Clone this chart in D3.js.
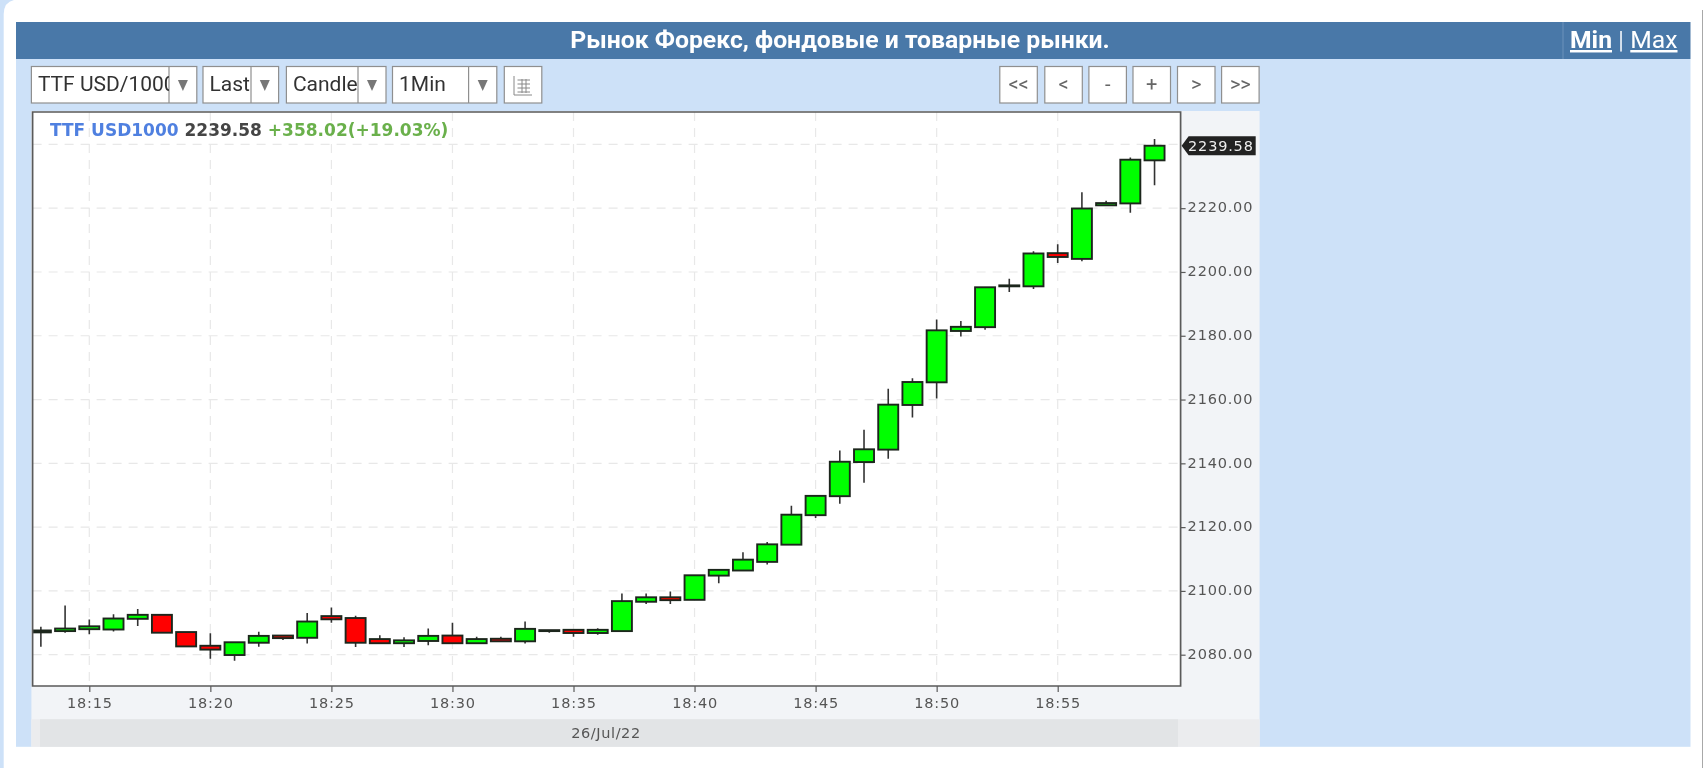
<!DOCTYPE html>
<html>
<head>
<meta charset="utf-8">
<script src="https://cdnjs.cloudflare.com/ajax/libs/d3/7.8.5/d3.min.js"></script>
<style>
  html, body { margin: 0; padding: 0; background: #fff; overflow: hidden; }
  svg { display: block; }
  text { font-family: Roboto, sans-serif; }
  .mono text, text.mono { font-family: "DejaVu Sans", sans-serif; }
</style>
</head>
<body>
<svg id="page" width="1703" height="768"></svg>
<script>
const minutes = ['18:13','18:14','18:15','18:16','18:17','18:18','18:19','18:20','18:21','18:22','18:23','18:24',
  '18:25','18:26','18:27','18:28','18:29','18:30','18:31','18:32','18:33','18:34','18:35','18:36','18:37','18:38',
  '18:39','18:40','18:41','18:42','18:43','18:44','18:45','18:46','18:47','18:48','18:49','18:50','18:51','18:52',
  '18:53','18:54','18:55','18:56','18:57','18:58','18:59'];
const opens = [2087.0,2087.4,2088.0,2087.9,2091.25,2092.5,2087.1,2082.8,2079.9,2083.75,2086.0,2085.3,
  2092.1,2091.5,2084.9,2083.6,2084.3,2086.0,2083.6,2085.0,2084.2,2087.4,2087.8,2086.8,2087.4,2096.6,
  2098.0,2097.2,2104.8,2106.4,2109.1,2114.5,2123.75,2129.7,2140.4,2144.3,2158.3,2165.4,2181.5,2182.7,
  2195.5,2195.5,2205.9,2204.1,2220.9,2221.5,2235.0];
const highs = [2088.75,2095.4,2091.0,2092.7,2094.3,2092.5,2087.1,2086.7,2083.9,2087.2,2086.0,2093.1,
  2094.8,2092.2,2086.1,2085.5,2088.2,2090.0,2085.6,2085.6,2090.4,2087.7,2087.8,2088.3,2099.2,2099.2,
  2099.8,2104.9,2106.6,2112.1,2115.3,2126.7,2129.8,2144.0,2150.5,2163.4,2166.7,2185.1,2184.6,2195.2,
  2197.9,2206.5,2208.7,2225.0,2222.3,2235.9,2241.7];
const lows = [2082.5,2086.9,2086.4,2087.3,2089.0,2086.9,2082.6,2078.75,2078.1,2082.5,2084.6,2083.5,
  2090.0,2082.4,2083.6,2082.4,2083.0,2083.6,2083.6,2084.2,2083.5,2086.9,2085.6,2086.25,2087.4,2095.9,
  2095.9,2097.2,2102.4,2106.4,2108.3,2114.5,2122.9,2127.3,2133.9,2141.4,2154.4,2160.3,2179.8,2181.9,
  2193.7,2194.7,2202.8,2203.4,2220.9,2218.6,2227.2];
const closes = [2087.6,2088.2,2088.9,2091.35,2092.5,2086.9,2082.6,2081.6,2083.9,2085.9,2085.2,2090.4,
  2091.1,2083.75,2083.6,2084.5,2085.9,2083.6,2084.9,2084.2,2088.1,2087.7,2086.8,2087.8,2096.8,2098.0,
  2097.1,2104.9,2106.6,2109.8,2114.6,2123.9,2129.8,2140.5,2144.4,2158.4,2165.5,2181.7,2182.8,2195.2,
  2195.8,2205.8,2204.7,2219.9,2221.6,2235.2,2239.58];

const priceTicks = [2080,2100,2120,2140,2160,2180,2200,2220,2240];
const lastPrice = 2239.58;
const titleText = 'Рынок Форекс, фондовые и товарные рынки.';
const dateLabel = '26/Jul/22';
const selects = ['TTF USD/1000', 'Last', 'Candle', '1Min'];
const navButtons = ['<<', '<', '-', '+', '>', '>>'];

const colors = {
  bar: '#4a78a8',
  panel: '#cde1f8',
  axisBg: '#f2f4f7',
  dateBg: '#e2e4e6',
  dateEnd: '#ebecee',
  grid: '#e8e8e8',
  axis: '#5a5a5a',
  tick: '#555',
  up: '#00ff00',
  down: '#ff0000',
  edge: '#1c261c',
  wick: '#333'
};

const plot = {left: 32.6, right: 1180.6, top: 112, bottom: 686};

const parseTime = d3.utcParse('%H:%M');
const fmtTime = d3.utcFormat('%H:%M');
const candles = minutes.map((m, i) => ({
  t: parseTime(m), o: opens[i], h: highs[i], l: lows[i], c: closes[i]
}));

const x = d3.scaleUtc()
  .domain([parseTime('18:15'), parseTime('18:55')])
  .range([89.3, 1057.7]);
const y = d3.scaleLinear()
  .domain([2080, 2240])
  .range([654.7, 144.4]);

const svg = d3.select('#page');
const defs = svg.append('defs');
defs.append('clipPath').attr('id', 'plot-clip').append('rect')
  .attr('x', plot.left).attr('y', plot.top)
  .attr('width', plot.right - plot.left).attr('height', plot.bottom - plot.top);
defs.append('filter').attr('id', 'soft').attr('x', 0).attr('y', 0).attr('width', '100%').attr('height', '100%')
  .append('feGaussianBlur').attr('stdDeviation', 0.35);

const root = svg.append('g').attr('filter', 'url(#soft)');

// page frame
root.append('rect').attr('width', 1703).attr('height', 768).attr('fill', '#fff');
root.append('path')
  .attr('d', 'M0,0H14Q4,2 3.7,14V768H0Z')
  .attr('fill', colors.panel);
root.append('rect').attr('x', 1702).attr('y', 10).attr('width', 1).attr('height', 758).attr('fill', '#a8a8a8');

// header + panel
root.append('rect').attr('x', 16).attr('y', 59).attr('width', 1674.5).attr('height', 687.8).attr('fill', colors.panel);
root.append('rect').attr('x', 16).attr('y', 22).attr('width', 1674.5).attr('height', 37).attr('fill', colors.bar);
root.append('line').attr('x1', 1563).attr('x2', 1563).attr('y1', 22).attr('y2', 59).attr('stroke', '#6b92bb');
root.append('text').text(titleText)
  .attr('x', 840).attr('y', 48).attr('text-anchor', 'middle')
  .attr('fill', '#fff').attr('font-size', 24.75).attr('font-weight', 700);

const minMax = root.append('text').attr('x', 1570).attr('y', 48).attr('fill', '#fff').attr('font-size', 24.7);
minMax.append('tspan').text('Min').attr('font-weight', 700).attr('text-decoration', 'underline');
minMax.append('tspan').text(' | ').attr('fill', '#dfe8f2');
minMax.append('tspan').text('Max').attr('text-decoration', 'underline');

// toolbar
const selectBoxes = [
  {x0: 31.4, x1: 196.8, split: 169},
  {x0: 203, x1: 278.6, split: 251},
  {x0: 286.4, x1: 386, split: 358},
  {x0: 392.5, x1: 496.8, split: 468.6}
];
selects.forEach((label, i) => {
  const b = selectBoxes[i];
  const g = root.append('g');
  defs.append('clipPath').attr('id', 'sel-clip-' + i).append('rect')
    .attr('x', b.x0).attr('y', 66).attr('width', b.split - b.x0).attr('height', 37);
  g.append('rect').attr('x', b.x0).attr('y', 66.5).attr('width', b.x1 - b.x0).attr('height', 36.5)
    .attr('fill', '#fff').attr('stroke', '#8f8f8f').attr('stroke-width', 1.2);
  g.append('line').attr('x1', b.split).attr('x2', b.split).attr('y1', 66.5).attr('y2', 103)
    .attr('stroke', '#8f8f8f').attr('stroke-width', 1.2);
  g.append('text').text(label)
    .attr('x', b.x0 + 6.5).attr('y', 91).attr('font-size', 21).attr('fill', '#333')
    .attr('clip-path', 'url(#sel-clip-' + i + ')');
  const cx = (b.split + b.x1) / 2;
  g.append('path').attr('d', `M${cx - 5},80H${cx + 5}L${cx},91Z`).attr('fill', '#777');
});

const iconBtn = root.append('g');
iconBtn.append('rect').attr('x', 504.3).attr('y', 66.5).attr('width', 37.5).attr('height', 36.5)
  .attr('fill', '#fff').attr('stroke', '#8f8f8f').attr('stroke-width', 1.2);
iconBtn.append('path')
  .attr('d', 'M514,76V95H532 M517.5,80H530 M517.5,84H530 M517.5,88H530 M517.5,92H530 M522,79V93 M526,79V93')
  .attr('fill', 'none').attr('stroke', '#888').attr('stroke-width', 1);

const navX = [999.8, 1044.8, 1088.9, 1133, 1177.5, 1221.6];
navButtons.forEach((label, i) => {
  const g = root.append('g');
  g.append('rect').attr('x', navX[i]).attr('y', 66.5).attr('width', 37.5).attr('height', 36.5)
    .attr('fill', '#fff').attr('stroke', '#8f8f8f').attr('stroke-width', 1.2);
  g.append('text').text(label)
    .attr('x', navX[i] + 18.75).attr('y', 91).attr('text-anchor', 'middle')
    .attr('font-size', 20).attr('fill', '#666');
});

// chart background
root.append('rect').attr('x', 31.4).attr('y', 111).attr('width', 1228.2).attr('height', 635.8).attr('fill', colors.axisBg);
root.append('rect').attr('x', 31.4).attr('y', 719.3).attr('width', 1228.2).attr('height', 27.5).attr('fill', colors.dateEnd);
root.append('rect').attr('x', 40).attr('y', 719.3).attr('width', 1138).attr('height', 27.5).attr('fill', colors.dateBg);
root.append('rect').attr('x', plot.left).attr('y', plot.top)
  .attr('width', plot.right - plot.left).attr('height', plot.bottom - plot.top).attr('fill', '#fff');

// grid
const gridG = root.append('g');
gridG.selectAll('line.h').data(priceTicks).enter().append('line')
  .attr('class', 'h')
  .attr('x1', plot.left).attr('x2', plot.right)
  .attr('y1', d => y(d)).attr('y2', d => y(d))
  .attr('stroke', colors.grid).attr('stroke-width', 1.2).attr('stroke-dasharray', '9,7');
gridG.selectAll('line.v').data(x.ticks(d3.utcMinute.every(5))).enter().append('line')
  .attr('class', 'v')
  .attr('x1', d => x(d)).attr('x2', d => x(d))
  .attr('y1', plot.top).attr('y2', plot.bottom)
  .attr('stroke', colors.grid).attr('stroke-width', 1.2).attr('stroke-dasharray', '9,7');

// candles
const barWidth = 20;
const candleG = root.append('g').attr('clip-path', 'url(#plot-clip)');
const candle = candleG.selectAll('g.candle').data(candles).enter().append('g').attr('class', 'candle');
candle.append('line')
  .attr('x1', d => x(d.t)).attr('x2', d => x(d.t))
  .attr('y1', d => y(d.h)).attr('y2', d => y(d.l))
  .attr('stroke', colors.wick).attr('stroke-width', 1.6);
candle.append('rect')
  .attr('x', d => x(d.t) - barWidth / 2)
  .attr('width', barWidth)
  .attr('y', d => y(Math.max(d.o, d.c)))
  .attr('height', d => Math.abs(y(d.o) - y(d.c)))
  .attr('fill', d => d.c >= d.o ? colors.up : colors.down)
  .attr('stroke', colors.edge).attr('stroke-width', 1.9);

// axes
const xAxis = d3.axisBottom(x)
  .ticks(d3.utcMinute.every(5))
  .tickFormat(fmtTime)
  .tickSize(6).tickPadding(5.5);
const yAxis = d3.axisRight(y)
  .tickValues(priceTicks.filter(d => d < 2240))
  .tickFormat(d3.format('.2f'))
  .tickSize(5).tickPadding(2);

const xG = root.append('g').attr('class', 'mono').attr('transform', `translate(0,${plot.bottom})`).call(xAxis);
const yG = root.append('g').attr('class', 'mono').attr('transform', `translate(${plot.right},0)`).call(yAxis);
[xG, yG].forEach(g => {
  g.select('.domain').remove();
  g.selectAll('.tick line').attr('stroke', colors.axis).attr('stroke-width', 1.2);
  g.selectAll('.tick text').attr('fill', colors.tick).attr('font-size', 14.5).style('letter-spacing', '0.8px');
});
yG.selectAll('.tick text').attr('dy', '0.26em');

root.append('path')
  .attr('d', `M${plot.left},${plot.bottom}V${plot.top}H${plot.right}V${plot.bottom}Z`)
  .attr('fill', 'none').attr('stroke', colors.axis).attr('stroke-width', 1.7);

// last price tag
const py = y(lastPrice);
root.append('path')
  .attr('d', `M${plot.right + 1},${py}L${plot.right + 8},${py - 9.5}H1255.7V${py + 9.5}H${plot.right + 8}Z`)
  .attr('fill', '#222');
root.append('text').attr('class', 'mono').text(d3.format('.2f')(lastPrice))
  .attr('x', plot.right + 7.5).attr('y', py + 5)
  .attr('fill', '#eee').attr('font-size', 14.5).style('letter-spacing', '0.8px');

// date strip
root.append('text').attr('class', 'mono').text(dateLabel)
  .attr('x', 606).attr('y', 738).attr('text-anchor', 'middle')
  .attr('fill', colors.tick).attr('font-size', 14.5).style('letter-spacing', '0.6px');

// legend line
const legend = root.append('text').attr('class', 'mono')
  .attr('x', 50).attr('y', 136).attr('font-size', 17).attr('font-weight', 700);
legend.append('tspan').text('TTF USD1000').attr('fill', '#5080e0');
legend.append('tspan').text(' ' + d3.format('.2f')(lastPrice)).attr('fill', '#444');
legend.append('tspan').text(' +358.02(+19.03%)').attr('fill', '#6ab04c');
</script>
</body>
</html>
